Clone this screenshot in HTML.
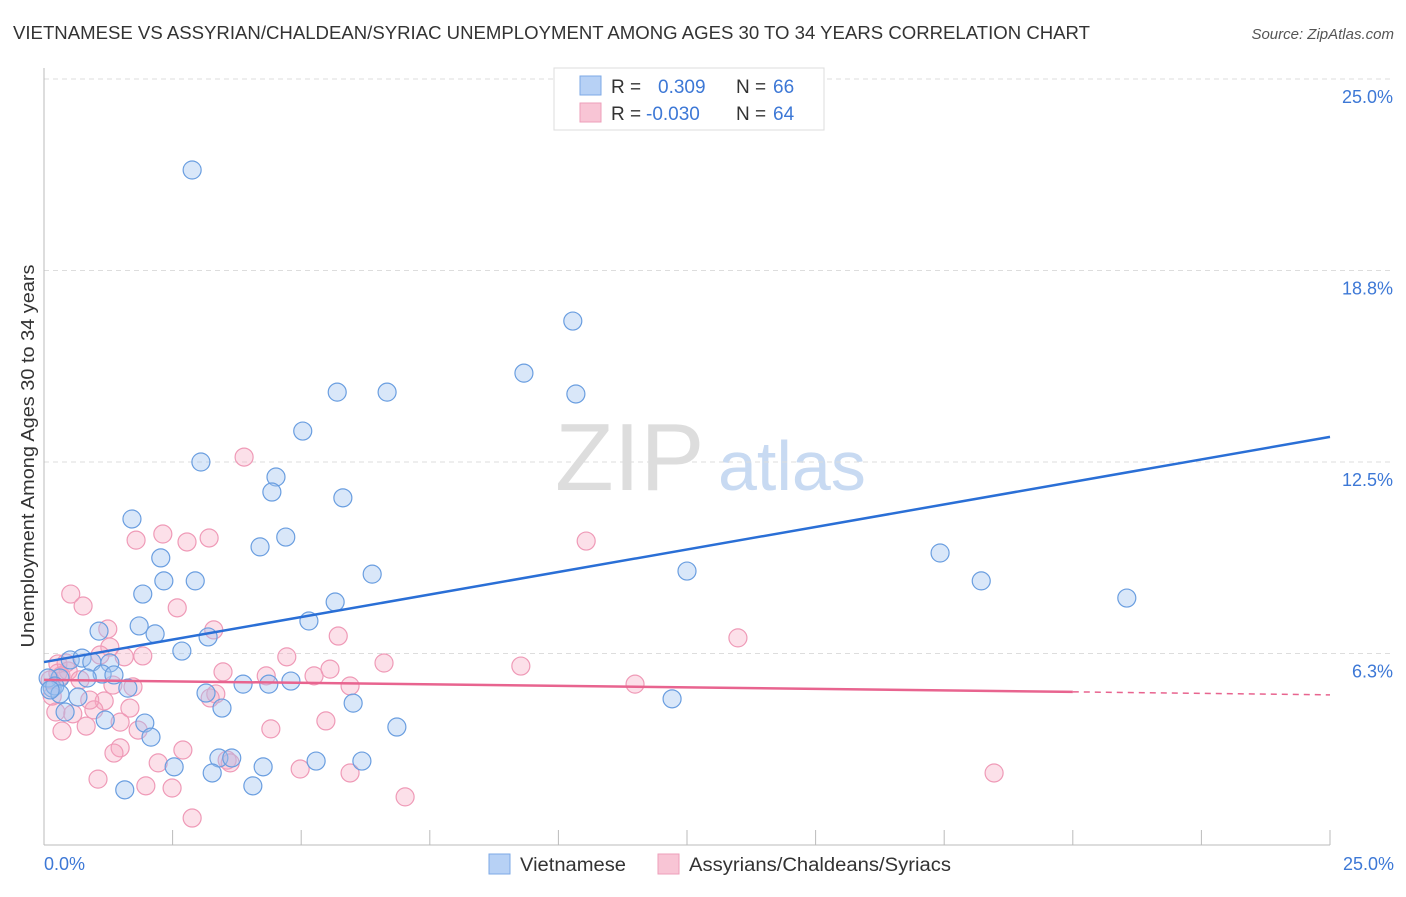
<!DOCTYPE html>
<html><head><meta charset="utf-8"><style>
body{margin:0;background:#fff;font-family:"Liberation Sans",sans-serif;}
svg text{font-family:"Liberation Sans",sans-serif;}
</style></head><body>
<svg id="chart" width="1406" height="892" xmlns="http://www.w3.org/2000/svg">
<text x="13" y="39" font-size="18.5" fill="#333" textLength="1077" lengthAdjust="spacingAndGlyphs">VIETNAMESE VS ASSYRIAN/CHALDEAN/SYRIAC UNEMPLOYMENT AMONG AGES 30 TO 34 YEARS CORRELATION CHART</text>
<text x="1394" y="39" font-size="15" fill="#555" font-style="italic" text-anchor="end">Source: ZipAtlas.com</text>
<text transform="translate(34,456) rotate(-90)" font-size="18" fill="#333" text-anchor="middle" textLength="383" lengthAdjust="spacingAndGlyphs">Unemployment Among Ages 30 to 34 years</text>
<g>
<text x="555" y="490" font-size="96" fill="#ddd" font-family="Liberation Serif, serif">ZIP</text>
<text x="718" y="490" font-size="70" fill="#c8daf2">atlas</text>
</g>
<g id="grid"></g><g id="axes"></g><g id="pts"></g><g id="lines"></g>
<g>
<rect x="554" y="68" width="270" height="62" fill="#fff" stroke="#ddd"/>
<rect x="580" y="76" width="21" height="19" fill="#b7d1f5" stroke="#7ea9e6"/>
<text x="611" y="93" font-size="19" fill="#333">R =</text>
<text x="658" y="93" font-size="19" fill="#3d78d6">0.309</text>
<text x="736" y="93" font-size="19" fill="#333">N =</text>
<text x="773" y="93" font-size="19" fill="#3d78d6">66</text>
<rect x="580" y="103" width="21" height="19" fill="#f8c5d5" stroke="#ee9fba"/>
<text x="611" y="120" font-size="19" fill="#333">R =</text>
<text x="646" y="120" font-size="19" fill="#3d78d6">-0.030</text>
<text x="736" y="120" font-size="19" fill="#333">N =</text>
<text x="773" y="120" font-size="19" fill="#3d78d6">64</text>
</g>
<g>
<rect x="489" y="854" width="21" height="20" fill="#b7d1f5" stroke="#7ea9e6"/>
<text x="520" y="871" font-size="19" fill="#333" textLength="106" lengthAdjust="spacingAndGlyphs">Vietnamese</text>
<rect x="658" y="854" width="21" height="20" fill="#f8c5d5" stroke="#ee9fba"/>
<text x="689" y="871" font-size="19" fill="#333" textLength="262" lengthAdjust="spacingAndGlyphs">Assyrians/Chaldeans/Syriacs</text>
</g>
</svg>
<script>
const yTicks=[6.3,12.5,18.8,25.0];
const yTickVals=[6.25,12.5,18.75,25];
const xTickLabels=["0.0%","25.0%"];
const blueX=[2.88,10.28,9.33,5.70,6.67,10.34,5.03,3.05,4.51,4.43,5.81,1.71,4.70,4.20,2.27,17.42,12.50,6.38,2.33,2.94,18.22,21.05,1.92,5.66,1.85,2.16,5.15,1.07,3.19,2.68,0.51,0.74,1.28,0.93,0.31,1.13,1.36,0.84,1.63,3.87,4.37,4.80,3.15,3.46,6.01,12.21,0.66,0.16,0.08,0.21,0.41,1.19,1.96,2.08,6.86,3.40,3.65,5.29,6.18,2.53,3.27,4.26,1.57,4.06,0.31,0.12];
const blueY=[22.03,17.10,15.40,14.78,14.78,14.72,13.51,12.50,12.01,11.52,11.33,10.64,10.05,9.73,9.37,9.53,8.94,8.84,8.62,8.62,8.62,8.06,8.19,7.93,7.15,6.89,7.31,6.98,6.79,6.33,6.04,6.10,5.94,5.97,5.45,5.58,5.55,5.45,5.12,5.25,5.25,5.35,4.96,4.47,4.63,4.77,4.83,5.12,5.45,5.19,4.34,4.08,3.98,3.52,3.85,2.84,2.84,2.74,2.74,2.55,2.35,2.55,1.80,1.93,4.93,5.06];
const pinkX=[3.89,10.54,2.31,1.79,2.78,3.21,0.52,0.76,2.59,1.24,5.72,1.28,13.49,1.56,1.92,3.30,6.61,4.72,9.27,3.48,5.56,4.32,5.25,0.27,0.47,0.70,1.73,11.49,3.34,5.95,3.23,1.67,1.17,0.23,0.56,0.97,1.48,1.83,4.41,5.48,0.35,0.82,1.48,1.36,2.70,2.22,3.56,4.98,5.95,18.47,1.05,1.98,2.49,7.02,2.88,0.27,0.12,0.43,1.09,0.33,0.16,3.62,0.89,1.34];
const pinkY=[12.66,9.92,10.15,9.95,9.89,10.02,8.19,7.80,7.74,7.05,6.82,6.46,6.76,6.14,6.17,7.02,5.94,6.14,5.84,5.65,5.74,5.52,5.52,5.91,5.68,5.39,5.16,5.25,4.93,5.19,4.80,4.47,4.70,4.34,4.28,4.41,4.01,3.75,3.79,4.05,3.72,3.88,3.17,3.00,3.10,2.68,2.77,2.48,2.35,2.35,2.15,1.93,1.86,1.57,0.88,5.61,5.39,5.94,6.20,5.52,4.86,2.68,4.73,5.22];
const blueTrend=[5.97,13.32];
const pinkTrend=[5.39,4.90];
const pinkSolidEnd=20.0;

const NS="http://www.w3.org/2000/svg";
const X0=44,X1=1330,Y0=845,Y1=79;
function sx(v){return X0+v/25*(X1-X0);}
function sy(v){return Y0-v/25*(Y0-Y1);}
function mk(tag,attrs,parent){const e=document.createElementNS(NS,tag);for(const k in attrs)e.setAttribute(k,attrs[k]);parent.appendChild(e);return e;}
const grid=document.getElementById('grid'),axes=document.getElementById('axes'),pts=document.getElementById('pts'),lines=document.getElementById('lines');
yTickVals.forEach((v,i)=>{
 const l=mk('line',{x1:X0,x2:1392,y1:sy(v),y2:sy(v),stroke:'#ddd','stroke-dasharray':'5,4'},grid);
 
 
 const t=mk('text',{x:1393,y:sy(v)+24,'font-size':18,fill:'#3d78d6','text-anchor':'end'},axes);
 t.textContent=yTicks[i].toFixed(1)+'%';
 
 
});
const ax=mk('line',{x1:X0,x2:X1,y1:Y0,y2:Y0,stroke:'#bbb'},axes);


const ay=mk('line',{x1:X0,x2:X0,y1:68,y2:Y0,stroke:'#bbb'},axes);


for(let i=0;i<=10;i++){
 const tk=mk('line',{x1:sx(i*2.5),x2:sx(i*2.5),y1:830,y2:Y0,stroke:'#bbb'},axes);
 
 
}
const xl0=mk('text',{x:44,y:870,'font-size':18,fill:'#3d78d6'},axes);xl0.textContent=xTickLabels[0];


const xl1=mk('text',{x:1394,y:870,'font-size':18,fill:'#3d78d6','text-anchor':'end'},axes);xl1.textContent=xTickLabels[1];


pinkX.forEach((v,i)=>{
 const c=mk('circle',{cx:sx(v),cy:sy(pinkY[i]),r:9,fill:'rgba(245,165,192,0.35)',stroke:'#ef9ab7','stroke-width':1.2},pts);
 
 
});
blueX.forEach((v,i)=>{
 const c=mk('circle',{cx:sx(v),cy:sy(blueY[i]),r:9,fill:'rgba(160,196,240,0.4)',stroke:'#6a9ee0','stroke-width':1.2},pts);
 
 
});
const bl=mk('line',{x1:sx(0),y1:sy(blueTrend[0]),x2:sx(25),y2:sy(blueTrend[1]),stroke:'#2a6fd6','stroke-width':2.5},lines);


const pe=pinkTrend[0]+(pinkTrend[1]-pinkTrend[0])*pinkSolidEnd/25;
const pl=mk('line',{x1:sx(0),y1:sy(pinkTrend[0]),x2:sx(pinkSolidEnd),y2:sy(pe),stroke:'#e8648f','stroke-width':2.5},lines);


const pd=mk('line',{x1:sx(pinkSolidEnd),y1:sy(pe),x2:sx(25),y2:sy(pinkTrend[1]),stroke:'#e8648f','stroke-width':1.5,'stroke-dasharray':'6,5'},lines);


</script>
</body></html>
